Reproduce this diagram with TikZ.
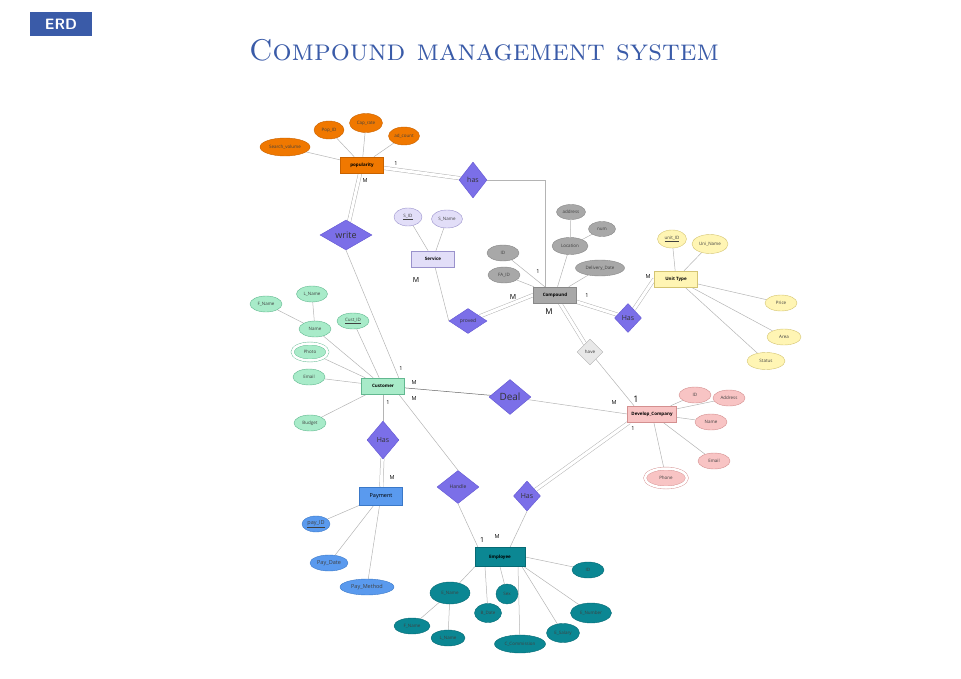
\documentclass[tikz,border=0pt]{standalone}
\usepackage{fontspec}
\usepackage{tikz}
\usetikzlibrary{positioning, shapes.geometric, calc, backgrounds}
\newfontfamily\diagfont{Open Sans}

\definecolor{titleblue}{HTML}{3A5BA8}
\definecolor{linegray}{HTML}{B4B4B4}
\definecolor{relfill}{HTML}{7B6FE8}
\definecolor{reldraw}{HTML}{6256D2}
\definecolor{popfill}{HTML}{F07800}
\definecolor{popdraw}{HTML}{C86200}
\definecolor{srvfill}{HTML}{E2DEF8}
\definecolor{srvdraw}{HTML}{9A92CC}
\definecolor{cmpfill}{HTML}{A8A8A8}
\definecolor{cmpdraw}{HTML}{888888}
\definecolor{unifill}{HTML}{FFF5B4}
\definecolor{unidraw}{HTML}{D4C472}
\definecolor{havfill}{HTML}{E8E8E8}
\definecolor{havdraw}{HTML}{B0B0B0}
\definecolor{devfill}{HTML}{F8C4C4}
\definecolor{devdraw}{HTML}{D49090}
\definecolor{cusfill}{HTML}{A8EBC9}
\definecolor{cusdraw}{HTML}{62B890}
\definecolor{payfill}{HTML}{5A9AEE}
\definecolor{paydraw}{HTML}{3A78C8}
\definecolor{empfill}{HTML}{0B8793}
\definecolor{empdraw}{HTML}{076A74}

\begin{document}
\begin{tikzpicture}[x=1pt, y=-1pt,
    entity/.style={rectangle, draw=#1draw, fill=#1fill, line width=0.5pt, minimum width=43pt,
      minimum height=16pt, inner sep=0pt, font=\diagfont\fontsize{4.5}{5}\selectfont\bfseries},
    attr/.style={ellipse, draw=#1draw, fill=#1fill, line width=0.4pt, minimum width=32pt,
      minimum height=16pt, inner sep=0pt, font=\diagfont\fontsize{4.5}{5}\selectfont, text=black!75},
    rel/.style={diamond, draw=reldraw, fill=relfill, line width=0.4pt, inner sep=0pt,
      text=black!80},
    multi/.style={double=white, double distance=2.5pt},
    link/.style={draw=linegray, line width=0.5pt},
    dbl/.style={draw=linegray, line width=0.5pt, double=white, double distance=3pt},
    card/.style={font=\diagfont\fontsize{5.5}{6}\selectfont, inner sep=0pt},
    bigcard/.style={font=\diagfont\fontsize{9}{10}\selectfont, inner sep=0pt}]
  \useasboundingbox (0,0) rectangle (961,679);

  % heading
  \node[fill=titleblue, minimum width=62pt, minimum height=24pt, inner sep=0pt,
    text=white, font=\sffamily\bfseries\fontsize{15}{16}\selectfont] (erd) at (61,24) {ERD};
  \node[text=titleblue, font=\fontsize{30}{32}\selectfont\scshape] (title) at (484,50)
    {Compound management system};

  % entities
  \node[entity=pop] (pop)  at (362,165) {popularity};
  \node[entity=srv] (srv)  at (433,259) {Service};
  \node[entity=cmp] (cmp)  at (555,295) {Compound};
  \node[entity=uni] (uni)  at (676,279) {Unit Type};
  \node[entity=dev, minimum width=49pt] (dev) at (652,414) {Develop\_Company};
  \node[entity=cus] (cus)  at (383,386) {Customer};
  \node[entity=pay, minimum height=18pt, font=\diagfont\fontsize{5.5}{6}\selectfont] (pay) at (381,496) {Payment};
  \node[entity=emp, minimum width=50pt, minimum height=19pt] (emp) at (500,557) {Employee};

  % relationships
  \node[rel, minimum width=28pt, minimum height=36pt, font=\diagfont\fontsize{7}{8}\selectfont] (hasP) at (473,180) {has};
  \node[rel, minimum width=52pt, minimum height=30pt, font=\diagfont\fontsize{9}{10}\selectfont] (write) at (346,235) {write};
  \node[rel, minimum width=38pt, minimum height=25pt, font=\diagfont\fontsize{5}{6}\selectfont] (proved) at (468,321) {proved};
  \node[rel, minimum width=27pt, minimum height=29pt, font=\diagfont\fontsize{7}{8}\selectfont] (hasU) at (628,318) {Has};
  \node[rel, draw=havdraw, fill=havfill, minimum width=26pt, minimum height=26pt,
    font=\diagfont\fontsize{4.5}{5}\selectfont] (have) at (590,352) {have};
  \node[rel, minimum width=42pt, minimum height=35pt, font=\diagfont\fontsize{10}{11}\selectfont] (deal) at (510,397) {Deal};
  \node[rel, minimum width=32pt, minimum height=38pt, font=\diagfont\fontsize{7}{8}\selectfont] (hasC) at (383,440) {Has};
  \node[rel, minimum width=42pt, minimum height=33pt, font=\diagfont\fontsize{5}{6}\selectfont] (handle) at (458,487) {Handle};
  \node[rel, minimum width=27pt, minimum height=30pt, font=\diagfont\fontsize{7}{8}\selectfont] (hasE) at (527,496) {Has};

  % popularity attributes
  \node[attr=pop, minimum width=50pt, minimum height=18pt] (popSv) at (285,147) {Search\_volume};
  \node[attr=pop, minimum width=30pt, minimum height=18pt] (popId) at (329,130) {Pop\_ID};
  \node[attr=pop, minimum width=33pt, minimum height=19pt] (popCr) at (366,123) {Cap\_rate};
  \node[attr=pop, minimum width=31pt, minimum height=18pt] (popAc) at (404,136) {ad\_count};

  % service attributes
  \node[attr=srv, minimum width=28pt, minimum height=18pt] (srvId) at (408,217) {\underline{S\_ID}};
  \node[attr=srv, minimum width=31pt, minimum height=18pt] (srvNm) at (447,219) {S\_Name};

  % compound attributes
  \node[attr=cmp] (cmpId) at (503,253) {ID};
  \node[attr=cmp] (cmpFa) at (504,275) {FA\_ID};
  \node[attr=cmp, minimum width=36pt, minimum height=17pt] (cmpLo) at (570,246) {Location};
  \node[attr=cmp, minimum width=29pt, minimum height=15pt] (cmpAd) at (571,212) {address};
  \node[attr=cmp, minimum width=27pt, minimum height=15pt] (cmpNu) at (602,229) {num};
  \node[attr=cmp, minimum width=49pt, minimum height=16pt] (cmpDd) at (600,268) {Delivery\_Date};

  % unit type attributes
  \node[attr=uni, minimum width=29pt, minimum height=18pt] (uniId) at (672,239) {\underline{unit\_ID}};
  \node[attr=uni, minimum width=36pt, minimum height=19pt] (uniNm) at (710,244) {Uni\_Name};
  \node[attr=uni] (uniPr) at (781,303) {Price};
  \node[attr=uni, minimum width=34pt] (uniAr) at (784,337) {Area};
  \node[attr=uni, minimum width=38pt, minimum height=17pt] (uniSt) at (766,361) {Status};

  % develop company attributes
  \node[attr=dev] (devId) at (695,395) {ID};
  \node[attr=dev] (devAd) at (729,398) {Address};
  \node[attr=dev] (devNm) at (711,422) {Name};
  \node[attr=dev] (devEm) at (714,461) {Email};
  \node[attr=dev, multi, minimum width=42pt, minimum height=19pt] (devPh) at (666,478) {Phone};

  % customer attributes
  \node[attr=cus] (cusFn) at (266,304) {F\_Name};
  \node[attr=cus, minimum width=31pt] (cusLn) at (312,294) {L\_Name};
  \node[attr=cus] (cusNm) at (315,329) {Name};
  \node[attr=cus] (cusId) at (353,321) {\underline{Cust\_ID}};
  \node[attr=cus, multi, minimum width=35pt, minimum height=17pt] (cusPh) at (310,352) {Photo};
  \node[attr=cus] (cusEm) at (309,377) {Email};
  \node[attr=cus] (cusBu) at (310,423) {Budget};

  % payment attributes
  \node[attr=pay, minimum width=28pt, font=\diagfont\fontsize{5.5}{6}\selectfont] (payId) at (316,524) {\underline{pay\_ID}};
  \node[attr=pay, minimum width=38pt, font=\diagfont\fontsize{5.5}{6}\selectfont] (payDt) at (329,563) {Pay\_Date};
  \node[attr=pay, minimum width=54pt, font=\diagfont\fontsize{5.5}{6}\selectfont] (payMt) at (367,587) {Pay\_Method};

  % employee attributes
  \node[attr=emp] (empId) at (588,570) {ID};
  \node[attr=emp, minimum width=40pt, minimum height=22pt] (empNm) at (450,593) {E\_Name};
  \node[attr=emp, minimum width=22pt, minimum height=20pt] (empSx) at (507,594) {Sex};
  \node[attr=emp, minimum width=27pt, minimum height=19pt] (empBd) at (488,613) {B\_Date};
  \node[attr=emp, minimum width=41pt, minimum height=20pt] (empNu) at (591,613) {E\_Number};
  \node[attr=emp, minimum width=33pt, minimum height=19pt] (empSa) at (563,633) {E\_Salary};
  \node[attr=emp, minimum width=51pt, minimum height=18pt] (empCc) at (520,644) {C\_Commission};
  \node[attr=emp, minimum width=36pt] (empFn) at (412,626) {F\_Name};
  \node[attr=emp, minimum width=34pt] (empLn) at (448,638) {L\_Name};

  \begin{scope}[on background layer]
  % attribute links
  \foreach \a in {popSv, popId, popCr, popAc} \draw[link] (\a) -- (pop);
  \foreach \a in {srvId, srvNm} \draw[link] (\a) -- (srv);
  \foreach \a in {cmpId, cmpFa, cmpLo, cmpDd} \draw[link] (\a) -- (cmp);
  \foreach \a in {cmpAd, cmpNu} \draw[link] (\a) -- (cmpLo);
  \foreach \a in {uniId, uniNm, uniPr, uniAr, uniSt} \draw[link] (\a) -- (uni);
  \foreach \a in {devId, devAd, devNm, devEm, devPh} \draw[link] (\a) -- (dev);
  \foreach \a in {cusFn, cusLn} \draw[link] (\a) -- (cusNm);
  \foreach \a in {cusNm, cusId, cusPh, cusEm, cusBu} \draw[link] (\a) -- (cus);
  \foreach \a in {payId, payDt, payMt} \draw[link] (\a) -- (pay);
  \foreach \a in {empFn, empLn} \draw[link] (\a) -- (empNm);
  \draw[link] (empNm) -- (emp.south west);
  \draw[link] ([xshift=-15pt]emp.south) -- (empBd);
  \draw[link] (emp.south) -- (empSx);
  \draw[link] ([xshift=18pt]emp.south) -- (empCc);
  \draw[link] ([xshift=22pt]emp.south) -- (empSa);
  \draw[link] ([xshift=24pt]emp.south) -- (empNu);
  \draw[link] (emp.east) -- (empId);

  % relationship links
  \draw[dbl] (pop) -- (hasP);
  \draw[link] (hasP.east) -| ([xshift=-10pt]cmp.north);
  \draw[dbl] (pop) -- (write);
  \draw[link] (write.south) -- ([xshift=-6pt]cus.north east);
  \draw[link] (srv) -- (proved.west);
  \draw[dbl] (proved) -- (cmp.west);
  \draw[dbl] (cmp) -- (hasU);
  \draw[dbl] (hasU) -- (uni.west);
  \draw[dbl] (cmp) -- (have);
  \draw[link] (have) -- ([xshift=-18pt]dev.north);
  \draw[draw=black!60, line width=0.5pt] (cus) -- (deal);
  \draw[link] (deal) -- (dev.west);
  \draw[link] (cus) -- (hasC);
  \draw[dbl] (hasC) -- (pay);
  \draw[link] ([xshift=-6pt]cus.south east) -- (handle.north);
  \draw[link] (handle.south) -- ([xshift=-22pt]emp.north);
  \draw[dbl] ([xshift=2pt]dev.south west) -- (hasE);
  \draw[link] (hasE.south) -- ([xshift=10pt]emp.north);
  \end{scope}

  % cardinalities
  \node[card] (c1) at (396,164) {1};
  \node[card] (c2) at (365,181) {M};
  \node[card] (c3) at (401,369) {1};
  \node[bigcard, font=\diagfont\fontsize{7}{8}\selectfont] (c4) at (416,280) {M};
  \node[bigcard, font=\diagfont\fontsize{7}{8}\selectfont] (c5) at (513,297) {M};
  \node[card] (c6) at (538,272) {1};
  \node[card] (c7) at (587,296) {1};
  \node[bigcard, font=\diagfont\fontsize{8}{9}\selectfont] (c8) at (549,312) {M};
  \node[card] (c9) at (648,277) {M};
  \node[bigcard] (c10) at (636,399) {1};
  \node[card] (c11) at (614,403) {M};
  \node[card] (c12) at (414,383) {M};
  \node[card] (c13) at (414,399) {M};
  \node[card] (c14) at (388,403) {1};
  \node[card] (c15) at (392,478) {M};
  \node[card] (c16) at (633,429) {1};
  \node[bigcard, font=\diagfont\fontsize{7}{8}\selectfont] (c17) at (482,540) {1};
  \node[card] (c18) at (497,537) {M};
\end{tikzpicture}
\end{document}
